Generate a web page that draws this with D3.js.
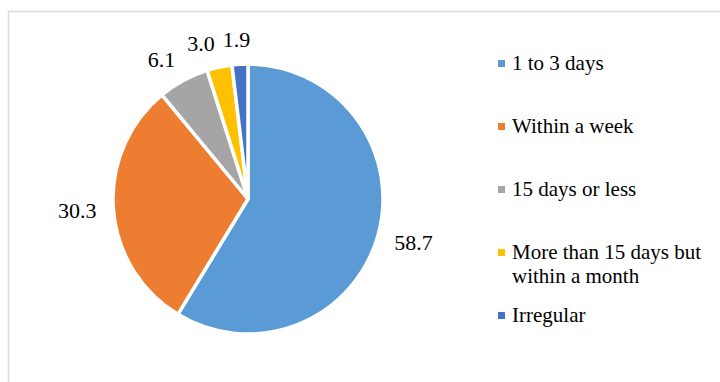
<!DOCTYPE html>
<html><head><meta charset="utf-8">
<script src="https://cdn.jsdelivr.net/npm/d3@7/dist/d3.min.js"></script>
<style>html,body{margin:0;padding:0;background:#fff;}svg{display:block;}
text{font-family:"Liberation Serif","Times New Roman",Tinos,Times,"DejaVu Serif",serif;}</style>
</head><body>
<script>
const categories = ["1 to 3 days", "Within a week", "15 days or less", "More than 15 days but within a month", "Irregular"];
const values = [58.7, 30.3, 6.1, 3.0, 1.9];
const valueLabels = ["58.7", "30.3", "6.1", "3.0", "1.9"];
const legendLines = [["1 to 3 days"], ["Within a week"], ["15 days or less"], ["More than 15 days but", "within a month"], ["Irregular"]];
const colors = ["#5B9BD5", "#ED7D31", "#A5A5A5", "#FFC000", "#4472C4"];

const W = 720, H = 382;
const svg = d3.select("body").append("svg").attr("width", W).attr("height", H);

svg.append("rect").attr("x", 8.5).attr("y", 11.5).attr("width", 740).attr("height", 400)
  .attr("fill", "#fff").attr("stroke", "#d9d9d9").attr("stroke-width", 1.5);

const cx = 248, cy = 199, r = 135;
const g = svg.append("g").attr("transform", `translate(${cx},${cy})`);
const pie = d3.pie().sort(null).value(d => d)(values);
const arc = d3.arc().innerRadius(0).outerRadius(r);
g.selectAll("path").data(pie).join("path")
  .attr("d", arc).attr("fill", (d, i) => colors[i])
  .attr("stroke", "#fff").attr("stroke-width", 3.5).attr("stroke-linejoin", "miter");

// labels (outside end)
const fs = 22;
const Rl = r + 17;
const lab = g.selectAll("text.lab").data(pie).join("text").attr("class", "lab")
  .attr("font-size", fs).attr("fill", "#000")
  .attr("text-anchor", "middle").text((d, i) => valueLabels[i]);
const boxes = [];
lab.each(function (d, i) {
  const w = this.getComputedTextLength(), h = fs * 0.7;
  const a = (d.startAngle + d.endAngle) / 2;
  const s = Math.sin(a), c = Math.cos(a);
  const fx = Math.sign(s) * Math.min(1, Math.abs(s) * 3);
  boxes[i] = { x: Rl * s + (w / 2) * fx, y: -Rl * c - (h / 2) * c, w, h };
});
for (let i = boxes.length - 2; i >= 0; i--) {
  const b = boxes[i], n = boxes[i + 1];
  if (Math.abs(b.y - n.y) < b.h + 4) {
    const maxX = n.x - n.w / 2 - 8 - b.w / 2;
    if (b.x > maxX) b.x = maxX;
  }
}
lab.attr("x", (d, i) => boxes[i].x).attr("y", (d, i) => boxes[i].y + boxes[i].h / 2);

// legend
const lfs = 21;
const lx = 498, ly0 = 60, lstep = 63, lineH = 24;
const leg = svg.append("g");
legendLines.forEach((lines, i) => {
  const y = ly0 + i * lstep;
  leg.append("rect").attr("x", lx).attr("y", y).attr("width", 7).attr("height", 7).attr("fill", colors[i]);
  const t = leg.append("text").attr("font-size", lfs).attr("fill", "#000")
    .attr("x", lx + 14).attr("y", y + 9.5);
  lines.forEach((ln, j) => {
    t.append("tspan").attr("x", lx + 14).attr("dy", j === 0 ? 0 : lineH).text(ln);
  });
});
</script>
</body></html>
